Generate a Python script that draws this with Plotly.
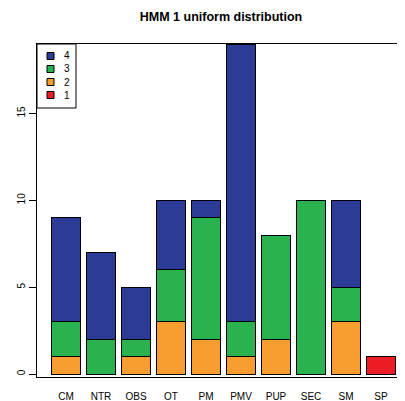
import plotly.graph_objects as go

categories = ["CM", "NTR", "OBS", "OT", "PM", "PMV", "PUP", "SEC", "SM", "SP"]
series_names = ["1", "2", "3", "4"]
s1 = [0, 0, 0, 0, 0, 0, 0, 0, 0, 1]
s2 = [1, 0, 1, 3, 2, 1, 2, 0, 3, 0]
s3 = [2, 2, 1, 3, 7, 2, 6, 10, 2, 0]
s4 = [6, 5, 3, 4, 1, 16, 0, 0, 5, 0]
colors = ["#ec1c24", "#f89e31", "#29b24d", "#2c3b95"]
y_ticks = [0, 5, 10, 15]

FONT = "Liberation Sans, Arial, Helvetica, sans-serif"
OFF = 8  # page body margin offset
W, H = 405 - OFF, 401 - OFF
PL, PT, PW, PH = 37, 44, 368, 333  # plot area in window pixels

xpos = list(range(len(categories)))
fig = go.Figure()
for name, vals, col in zip(series_names, [s1, s2, s3, s4], colors):
    fig.add_trace(go.Bar(
        x=xpos, y=[v if v else None for v in vals], name=name,
        marker=dict(color=col, line=dict(color="black", width=1)),
        width=1 / 1.2, showlegend=False))

# manual legend (R-style), top-left, reversed order
row_h = 13
for i, (name, col) in enumerate(reversed(list(zip(series_names, colors)))):
    cy = 56 + i * row_h
    fig.add_shape(type="rect", xref="paper", yref="paper",
                  x0=(47 - PL) / PW, x1=(54 - PL) / PW,
                  y0=1 - (cy + 3.5 - PT) / PH, y1=1 - (cy - 3.5 - PT) / PH,
                  fillcolor=col, line=dict(color="black", width=1))
    fig.add_annotation(text=name, xref="paper", yref="paper",
                       x=(62 - PL) / PW, y=1 - (cy - PT) / PH,
                       xanchor="left", yanchor="middle", showarrow=False,
                       font=dict(family=FONT, size=10, color="black"))
fig.add_shape(type="rect", xref="paper", yref="paper",
              x0=0, x1=(76 - PL) / PW, y0=1 - (108 - PT) / PH, y1=1,
              fillcolor="rgba(0,0,0,0)", line=dict(color="black", width=1))

fig.update_layout(
    width=W, height=H,
    margin=dict(l=PL - OFF, r=0, t=PT - OFF, b=401 - PT - PH, pad=0),
    barmode="stack",
    plot_bgcolor="white", paper_bgcolor="white",
    font=dict(family=FONT, size=10, color="black"),
    title=dict(text="<b>HMM 1 uniform distribution</b>", x=0.5, xref="paper",
               xanchor="center", y=1 - (17 - OFF) / H, yanchor="middle",
               font=dict(family=FONT, size=12.5, color="black")),
    showlegend=False,
    xaxis=dict(range=[-0.829, 9.686], tickmode="array", tickvals=xpos,
               ticktext=categories, showline=True, mirror=True,
               linecolor="black", linewidth=1, showgrid=False, zeroline=False,
               ticks="outside", ticklen=10, tickcolor="rgba(0,0,0,0)",
               tickfont=dict(size=10), automargin=False),
    yaxis=dict(range=[-0.17, 19], tickmode="array", tickvals=y_ticks,
               showline=True, linecolor="black", linewidth=1, showgrid=False,
               zeroline=False, ticks="outside", ticklen=7, tickcolor="black",
               tickangle=-90, tickfont=dict(size=10), automargin=False),
)
fig.write_html("out.html")
